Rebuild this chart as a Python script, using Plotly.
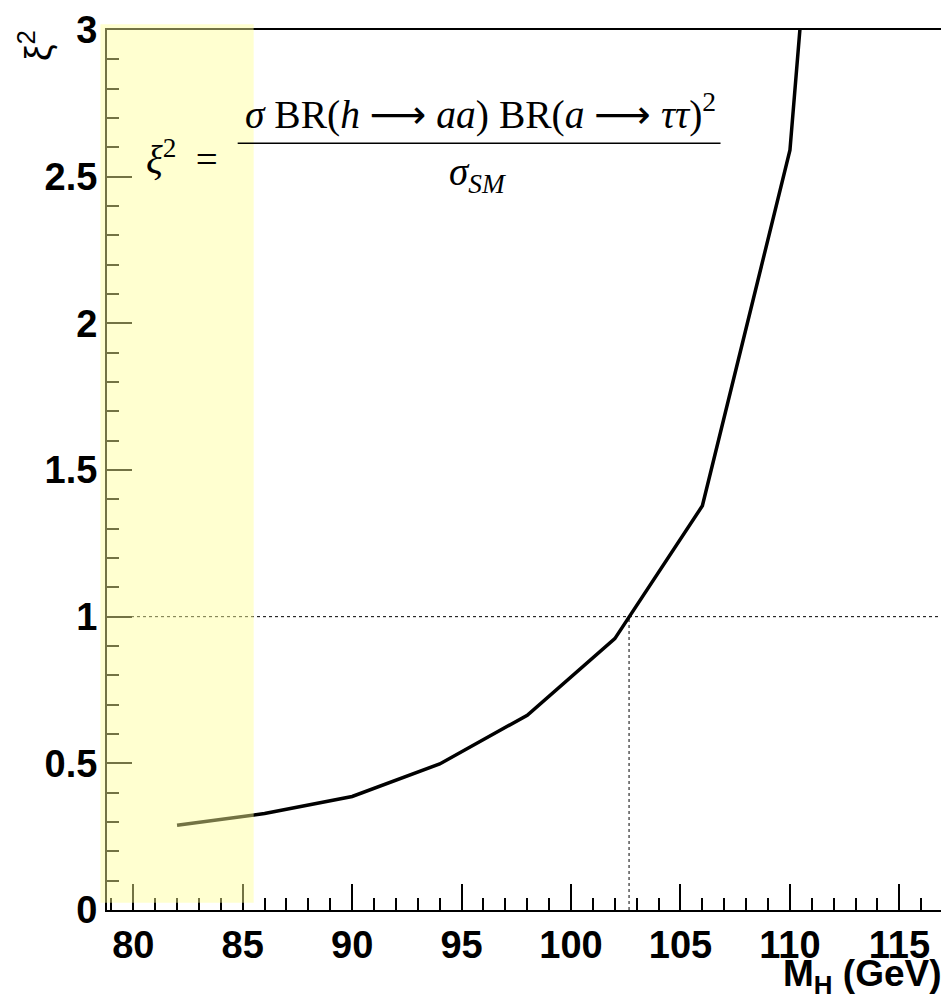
import plotly.graph_objects as go

# ---- data ----
mass = [82, 86, 90, 94, 98, 102, 106, 110, 114]
xi2 = [0.289, 0.329, 0.387, 0.498, 0.664, 0.925, 1.378, 2.59, 6.2]
limit_xi2 = 1.0
limit_mass = 102.65
band_x = [78.5, 85.5]
band_y = [0.025, 3.02]
x_range = [78.8, 117.13]
y_range = [0.0, 3.0]
x_ticks = [80, 85, 90, 95, 100, 105, 110, 115]
y_ticks = [0, 0.5, 1, 1.5, 2, 2.5, 3]
y_tick_text = ["0", "0.5", "1", "1.5", "2", "2.5", "3"]

# the page body adds an 8px offset; size the figure so it fills the window
OFF = 8
W, H = 949 - OFF, 1000 - OFF
ML, MR, MT, MB = 107 - OFF, 1, 24 - OFF, H - (910.5 - OFF)

fig = go.Figure()
fig.add_trace(go.Scatter(x=mass, y=xi2, mode="lines",
                         line=dict(color="black", width=3.5),
                         showlegend=False, hoverinfo="skip"))

# dotted limit lines
fig.add_shape(type="line", xref="x", yref="y", x0=x_range[0], x1=x_range[1],
              y0=limit_xi2, y1=limit_xi2, line=dict(color="black", width=1, dash="dot"))
fig.add_shape(type="line", xref="x", yref="y", x0=limit_mass, x1=limit_mass,
              y0=y_range[0], y1=limit_xi2, line=dict(color="black", width=1, dash="dot"))

# yellow excluded band (semi-transparent, on top)
def xdom(v):
    return (v - x_range[0]) / (x_range[1] - x_range[0])

def ydom(v):
    return (v - y_range[0]) / (y_range[1] - y_range[0])

fig.add_shape(type="rect", xref="x domain", yref="y domain",
              x0=xdom(band_x[0]), x1=xdom(band_x[1]),
              y0=ydom(band_y[0]), y1=ydom(band_y[1]),
              fillcolor="rgba(255,255,150,0.45)", line=dict(width=0), layer="above")

# reference-pixel -> paper helpers for text placement
pw = W - ML - MR
ph = H - MT - MB
def px(x):
    return (x - OFF - ML) / pw
def py(y):
    return (H - MB - (y - OFF)) / ph

serif = "Liberation Serif"
ARW = " <span style='font-family:DejaVu Sans'>⟶</span> "
# formula
fig.add_annotation(xref="paper", yref="paper", x=px(144), y=py(152),
                   xanchor="left", yanchor="middle", showarrow=False,
                   text="<i>ξ</i><sup>2</sup>&nbsp; =",
                   font=dict(family=serif, size=39, color="black"))
fig.add_annotation(xref="paper", yref="paper", x=px(481), y=py(134),
                   xanchor="center", yanchor="bottom", showarrow=False,
                   text=("<i>σ</i> BR(<i>h</i>" + ARW + "<i>aa</i>) BR(<i>a</i>" + ARW
                         + "<i>ττ</i>)<sup>2</sup>"),
                   font=dict(family=serif, size=39.5, color="black"))
fig.add_shape(type="line", xref="paper", yref="paper", x0=px(238), x1=px(722),
              y0=py(138), y1=py(138), line=dict(color="black", width=1.5))
fig.add_annotation(xref="paper", yref="paper", x=px(478), y=py(143),
                   xanchor="center", yanchor="top", showarrow=False,
                   text="<i>σ</i><sub><i>SM</i></sub>",
                   font=dict(family=serif, size=39, color="black"))

# axis titles
fig.add_annotation(xref="paper", yref="paper", x=px(946), y=py(977),
                   xanchor="right", yanchor="middle", showarrow=False,
                   text="<b>M<sub>H</sub> (GeV)</b>",
                   font=dict(family="Liberation Sans", size=37, color="black"))
fig.add_annotation(xref="paper", yref="paper", x=px(36), y=py(40),
                   xanchor="center", yanchor="middle", showarrow=False, textangle=-90,
                   text="ξ<sup>2</sup>",
                   font=dict(family="Liberation Sans", size=37, color="black"))

tickfont = dict(family="Liberation Sans", size=38, color="black", weight="bold")
fig.update_xaxes(range=x_range, tickmode="array", tickvals=x_ticks,
                 ticktext=[str(t) for t in x_ticks], ticklabeloverflow="allow",
                 ticks="inside", ticklen=26, tickwidth=1.5, tickcolor="black",
                 minor=dict(ticks="inside", ticklen=12, tickwidth=1.5, tickcolor="black",
                            dtick=1, tick0=80, showgrid=False),
                 showline=True, linecolor="black", linewidth=2, mirror=True,
                 showgrid=False, zeroline=False, tickfont=tickfont)
fig.update_yaxes(range=y_range, tickmode="array", tickvals=y_ticks, ticktext=y_tick_text,
                 ticklabeloverflow="allow",
                 ticks="inside", ticklen=25, tickwidth=1.5, tickcolor="black",
                 minor=dict(ticks="inside", ticklen=12, tickwidth=1.5, tickcolor="black",
                            dtick=0.1, tick0=0, showgrid=False),
                 showline=True, linecolor="black", linewidth=2, mirror=True,
                 showgrid=False, zeroline=False, tickfont=tickfont)

fig.update_layout(width=W, height=H, autosize=False,
                  margin=dict(l=ML, r=MR, t=MT, b=MB),
                  plot_bgcolor="white", paper_bgcolor="white")

fig.write_html("out.html")
